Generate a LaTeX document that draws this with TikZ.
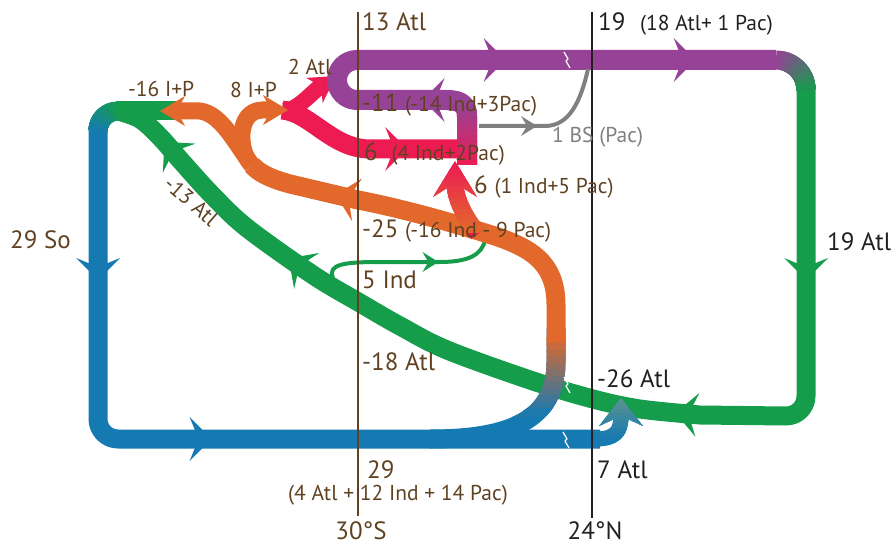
\documentclass[tikz,border=0pt]{standalone}
\usepackage{fontspec}
\setmainfont{PT Sans}
\usetikzlibrary{arrows.meta,decorations.markings}

\definecolor{flowblue}{RGB}{22,122,178}
\definecolor{flowgreen}{RGB}{21,157,76}
\definecolor{floworange}{RGB}{226,104,44}
\definecolor{flowred}{RGB}{236,28,82}
\definecolor{flowpurple}{RGB}{150,66,150}
\definecolor{flowteal}{RGB}{100,150,140}
\definecolor{flowgray}{RGB}{128,128,128}
\definecolor{latbrown}{RGB}{96,66,34}
\definecolor{latblack}{RGB}{35,31,32}

\newcommand{\smalltxt}{\fontsize{21.5}{24}\selectfont}

% colour change along y: clip the same path in thin strips
\newcommand{\ystrips}[7]{%
  \foreach \k in {0,...,11}{%
    \pgfmathsetmacro{\ya}{#3+(#4-#3)*\k/12}%
    \pgfmathsetmacro{\yb}{#3+(#4-#3)*(\k+1)/12}%
    \pgfmathtruncatemacro{\pc}{100-100*(\k+0.5)/12}%
    \colorlet{stripcol}{#5!\pc!#6}%
    \begin{scope}
      \clip (#1,\ya-0.6) rectangle (#2,\yb+0.6);
      #7
    \end{scope}
  }%
}
% colour change round a corner (each piece runs on to the end)
\newcommand{\arcfade}[7]{%
  \foreach \k in {0,...,9}{%
    \pgfmathsetmacro{\angA}{#4+#5*\k/10}%
    \pgfmathsetmacro{\angD}{#5*(10-\k)/10}%
    \pgfmathtruncatemacro{\pc}{95-10*\k}%
    \draw[line width=19pt, color=#6!\pc!#7] ([shift={(\angA:#3)}]#1,#2) arc[start angle=\angA, delta angle=\angD, radius=#3];
  }%
}
\newcommand{\brk}[2]{\draw[white, line width=1.2pt] (#1-3,#2-8) -- (#1+1,#2-1) -- (#1-1,#2+1) -- (#1+3,#2+8);}

\begin{document}
\begin{tikzpicture}[x=1pt, y=-1pt, line join=round]
\tikzstyle{band}=[line width=19pt]
\tikzstyle{headat}=[postaction={decorate,decoration={markings,mark=at position #1 with {\arrow{Stealth[length=22pt,width=44pt,inset=9pt,line width=0pt]}}}}]
\tikzstyle{thinheadat}=[postaction={decorate,decoration={markings,mark=at position #1 with {\arrow{Stealth[length=16pt,width=20pt,inset=6pt,line width=0pt]}}}}]
\tikzstyle{lbl}=[inner sep=0pt, anchor=base west, font=\fontsize{25}{28}\selectfont]
\tikzstyle{slbl}=[lbl, font=\smalltxt]

\useasboundingbox (0,0) rectangle (894,548);

% Atlantic return (green)
\draw[band, color=flowgreen, headat=190pt, headat=448pt, headat=869pt, headat=1040pt]
  (806,90) -- (806,396) arc[start angle=0, end angle=90, radius=20]
  -- plot[smooth, tension=0.55] coordinates {(700,415) (640,409) (593,399) (533,381) (447,350) (400,326) (360,303) (313,275) (247,228) (212,195) (182,162) (160,137) (140,119) (118,111)};
\draw[band, color=flowgreen] (116,111) -- (178,111);
\draw[line width=4pt, color=flowgreen, thinheadat=116pt] (333,278) .. controls (327,264) and (345,262) .. (380,262) -- (440,262) .. controls (468,262) and (482,255) .. (485,240);

% southern inflow (blue)
\draw[band, color=flowblue, headat=149pt, headat=413pt] (98,131) -- (98,419) arc[start angle=180, end angle=90, radius=20] -- (600,439);
\draw[line width=15pt, color=flowblue, -{Stealth[length=28pt,width=44pt,inset=10pt,line width=0pt]}] (596,439) .. controls (615,439) and (621,432) .. (621,398);
\ystrips{585}{660}{395}{440}{flowteal}{flowblue}{\draw[line width=15pt, color=stripcol, -{Stealth[length=28pt,width=44pt,inset=10pt,line width=0pt]}] (596,439) .. controls (615,439) and (621,432) .. (621,398);}
\draw[band, color=flowblue] (430,439) .. controls (510,439) and (556,420) .. (556,362) -- (556,328);
\ystrips{500}{590}{338}{416}{floworange}{flowblue}{\draw[band, color=stripcol] (430,439) .. controls (510,439) and (556,420) .. (556,362) -- (556,328);}

% red branches
\draw[band, color=flowred, headat=135pt] (282,110) .. controls (310,112) and (332,149) .. (370,149) -- (468,149);
\draw[line width=16pt, color=flowred, -{Stealth[length=26pt,width=30pt,inset=8pt,line width=0pt]}] (284,111) .. controls (298,110) and (312,92) .. (336,76);

% Indo-Pacific (orange)
\draw[band, color=floworange, headat=302pt] (556,342) -- (556,305) .. controls (556,262) and (530,248) .. (495,236) .. controls (450,222) and (400,208) .. (358,200) -- (290,184) .. controls (268,178) and (258,172) .. (252,165);
\draw[line width=17pt, color=floworange, -{Stealth[length=25pt,width=30pt,inset=8pt,line width=0pt]}] (252,165) .. controls (236,145) and (222,114) .. (200,111) -- (160,111);
\draw[line width=17pt, color=floworange, -{Stealth[length=25pt,width=30pt,inset=8pt,line width=0pt]}] (252,165) .. controls (238,152) and (236,111) .. (262,110) -- (288,110);

% upper branch (purple)
\draw[line width=20pt, color=flowpurple, headat=103pt, headat=380pt, headat=570pt]
  (467,165) -- (467,116) .. controls (467,104) and (460,100) .. (447,100) -- (357,100) arc[start angle=90, end angle=270, radius=20] -- (776,60);
\ystrips{445}{500}{106}{166}{flowpurple}{flowred}{\draw[line width=20pt, color=stripcol] (467,165) -- (467,116) .. controls (467,104) and (460,100) .. (447,100) -- (440,100);}
\draw[line width=17pt, color=flowred, -{Stealth[length=36pt,width=44pt,inset=14pt,line width=0pt]}] (478,234) .. controls (462,214) and (455,196) .. (455,161);
\ystrips{425}{495}{165}{232}{flowred}{floworange}{\draw[line width=17pt, color=stripcol, -{Stealth[length=36pt,width=44pt,inset=14pt,line width=0pt]}] (478,234) .. controls (462,214) and (455,196) .. (455,161);}

% corners
\arcfade{776}{90}{30}{270}{90}{flowpurple}{flowgreen}
\arcfade{118}{131}{20}{270}{-90}{flowgreen}{flowblue}

% Bering Strait
\draw[line width=4pt, color=flowgray, thinheadat=58pt] (479,126) -- (545,126) .. controls (570,126) and (581,100) .. (588,69);

\brk{567}{60}
\brk{567}{385}
\brk{566}{440}

% sections
\draw[line width=2pt, latbrown] (358,12) -- (358,516);
\draw[line width=2pt, latblack] (592,12) -- (592,518);

\node[lbl, latbrown] (t13) at (362,31) {13 Atl};
\node[lbl, latblack] (t19) at (598,31) {19\hspace{8pt} {\smalltxt(18 Atl+ 1 Pac)}};
\node[lbl, latbrown] (t11) at (362,112) {-11 {\smalltxt(-14 Ind+3Pac)}};
\node[lbl, latbrown] (t6a) at (364,161) {6\hspace{7pt} {\smalltxt(4 Ind+2Pac)}};
\node[slbl, flowgray] (tbs) at (552,143) {1 BS (Pac)};
\node[lbl, latbrown] (t6b) at (474,194) {6 {\smalltxt(1 Ind+5 Pac)}};
\node[lbl, latbrown] (t25) at (362,237) {-25 {\smalltxt(-16 Ind - 9 Pac)}};
\node[lbl, latbrown] (t5) at (362,288) {5 Ind};
\node[lbl, latbrown] (t18) at (362,370) {-18 Atl};
\node[lbl, latblack] (t26) at (597,387) {-26 Atl};
\node[lbl, latbrown] (t29) at (367,478) {29};
\node[slbl, latbrown, anchor=base] (tsum) at (398,500) {(4 Atl + 12 Ind + 14 Pac)};
\node[lbl, latblack] (t7) at (597,478) {7 Atl};
\node[lbl, latbrown, anchor=base] (t30) at (361,539) {30°S};
\node[lbl, latblack, anchor=base] (t24) at (595,539) {24°N};
\node[lbl, latblack] (t19a) at (827,250) {19 Atl};
\node[lbl, latbrown] (t29s) at (10,248) {29 So};
\node[slbl, latbrown] (t16) at (128,97) {-16 I+P};
\node[slbl, latbrown] (t8) at (230,98) {8 I+P};
\node[slbl, latbrown] (t2) at (288,75) {2 Atl};
\node[slbl, latbrown, anchor=center, rotate=-41] (t13a) at (191,201) {-13 Atl};
\end{tikzpicture}
\end{document}
